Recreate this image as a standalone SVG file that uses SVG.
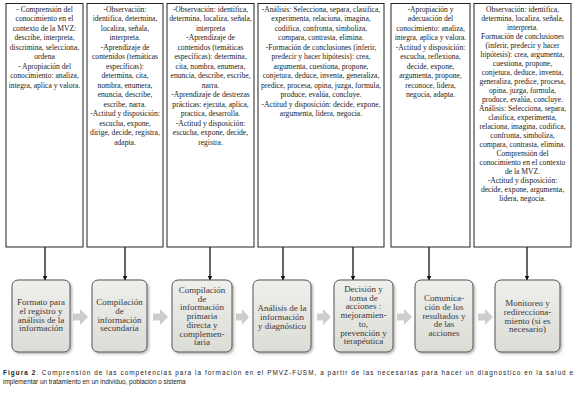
<svg xmlns="http://www.w3.org/2000/svg" width="576" height="414" viewBox="0 0 576 414">
<style>
.tb{fill:#fff;stroke:#222;stroke-width:1}
.t{font-family:"Liberation Serif","Times New Roman",serif;font-size:7.6px;fill:#222;text-anchor:middle}
.bb{fill:url(#g);stroke:#555;stroke-width:1;filter:url(#sh)}
.bt{font-family:"Liberation Serif","Times New Roman",serif;font-size:9px;fill:#3a3a3a;text-anchor:middle}
.con{stroke:#111;stroke-width:1.3;fill:none;marker-end:url(#ah)}
.ga{fill:#cdcdcd}
.cap{font-family:"Liberation Sans",Arial,sans-serif;font-size:6.4px;fill:#222}
</style>
<defs>
<linearGradient id="g" x1="0" y1="0" x2="0" y2="1"><stop offset="0" stop-color="#efefeb"/><stop offset="1" stop-color="#dcdcd7"/></linearGradient>
<filter id="sh" x="-20%" y="-20%" width="150%" height="150%"><feDropShadow dx="1.5" dy="1.5" stdDeviation="1.2" flood-color="#000" flood-opacity="0.3"/></filter>
<marker id="ah" viewBox="0 0 10 10" refX="9" refY="5" markerWidth="5" markerHeight="5" orient="auto" markerUnits="userSpaceOnUse"><path d="M0,0L10,5L0,10z" fill="#111"/></marker>
</defs>
<rect width="576" height="414" fill="#fff"/>

<g id="top1"><rect class="tb" x="6" y="3.5" width="77" height="243.5"/>
<text class="t" x="44.5" y="11.5">
<tspan x="44.5" dy="0">- Comprensión del</tspan><tspan x="44.5" dy="9.5">conocimiento en el</tspan><tspan x="44.5" dy="9.5">contexto de la MVZ:</tspan><tspan x="44.5" dy="9.5">describe, interpreta,</tspan><tspan x="44.5" dy="9.5">discrimina, selecciona,</tspan><tspan x="44.5" dy="9.5">ordena</tspan><tspan x="44.5" dy="9.5">- Apropiación del</tspan><tspan x="44.5" dy="9.5">conocimiento: analiza,</tspan><tspan x="44.5" dy="9.5">integra, aplica y valora.</tspan></text></g>

<g id="top2"><rect class="tb" x="87" y="3.5" width="76" height="243.5"/>
<text class="t" x="125" y="11.5">
<tspan x="125" dy="0">-Observación:</tspan><tspan x="125" dy="9.5">identifica, determina,</tspan><tspan x="125" dy="9.5">localiza, señala,</tspan><tspan x="125" dy="9.5">interpreta.</tspan><tspan x="125" dy="9.5">-Aprendizaje de</tspan><tspan x="125" dy="9.5">contenidos (temáticas</tspan><tspan x="125" dy="9.5">específicas):</tspan><tspan x="125" dy="9.5">determina, cita,</tspan><tspan x="125" dy="9.5">nombra, enumera,</tspan><tspan x="125" dy="9.5">enuncia, describe,</tspan><tspan x="125" dy="9.5">escribe, narra.</tspan><tspan x="125" dy="9.5">-Actitud y disposición:</tspan><tspan x="125" dy="9.5">escucha, expone,</tspan><tspan x="125" dy="9.5">dirige, decide, registra,</tspan><tspan x="125" dy="9.5">adapta.</tspan></text></g>

<g id="top3"><rect class="tb" x="167" y="3.5" width="87" height="243.5"/>
<text class="t" x="210.5" y="11.5">
<tspan x="210.5" dy="0">-Observación: identifica,</tspan><tspan x="210.5" dy="9.5">determina, localiza, señala,</tspan><tspan x="210.5" dy="9.5">interpreta</tspan><tspan x="210.5" dy="9.5">-Aprendizaje de</tspan><tspan x="210.5" dy="9.5">contenidos (temáticas</tspan><tspan x="210.5" dy="9.5">específicas): determina,</tspan><tspan x="210.5" dy="9.5">cita, nombra, enumera,</tspan><tspan x="210.5" dy="9.5">enuncia, describe, escribe,</tspan><tspan x="210.5" dy="9.5">narra.</tspan><tspan x="210.5" dy="9.5">-Aprendizaje de destrezas</tspan><tspan x="210.5" dy="9.5">prácticas: ejecuta, aplica,</tspan><tspan x="210.5" dy="9.5">practica, desarrolla.</tspan><tspan x="210.5" dy="9.5">-Actitud y disposición:</tspan><tspan x="210.5" dy="9.5">escucha, expone, decide,</tspan><tspan x="210.5" dy="9.5">registra.</tspan></text></g>

<g id="top4"><rect class="tb" x="258" y="3.5" width="126" height="243.5"/>
<text class="t" x="321" y="11.5">
<tspan x="321" dy="0">-Análisis: Selecciona, separa, clasifica,</tspan><tspan x="321" dy="9.5">experimenta, relaciona, imagina,</tspan><tspan x="321" dy="9.5">codifica, confronta, simboliza,</tspan><tspan x="321" dy="9.5">compara, contrasta, elimina.</tspan><tspan x="321" dy="9.5">-Formación de conclusiones (inferir,</tspan><tspan x="321" dy="9.5">predecir y hacer hipótesis): crea,</tspan><tspan x="321" dy="9.5">argumenta,  cuestiona, propone,</tspan><tspan x="321" dy="9.5">conjetura, deduce, inventa, generaliza,</tspan><tspan x="321" dy="9.5">predice, procesa, opina, juzga, formula,</tspan><tspan x="321" dy="9.5">produce, evalúa, concluye.</tspan><tspan x="321" dy="9.5">-Actitud y disposición: decide, expone,</tspan><tspan x="321" dy="9.5">argumenta, lidera, negocia.</tspan></text></g>

<g id="top5"><rect class="tb" x="391" y="3.5" width="79" height="243.5"/>
<text class="t" x="430.5" y="11.5">
<tspan x="430.5" dy="0">-Apropiación y</tspan><tspan x="430.5" dy="9.5">adecuación del</tspan><tspan x="430.5" dy="9.5">conocimiento: analiza,</tspan><tspan x="430.5" dy="9.5">integra, aplica y valora.</tspan><tspan x="430.5" dy="9.5">-Actitud y disposición:</tspan><tspan x="430.5" dy="9.5">escucha, reflexiona,</tspan><tspan x="430.5" dy="9.5">decide, expone,</tspan><tspan x="430.5" dy="9.5">argumenta, propone,</tspan><tspan x="430.5" dy="9.5">reconoce,  lidera,</tspan><tspan x="430.5" dy="9.5">negocia, adapta.</tspan></text></g>

<g id="top6"><rect class="tb" x="474" y="3.5" width="97" height="243.5"/>
<text class="t" x="522.5" y="11.5">
<tspan x="522.5" dy="0">Observación: identifica,</tspan><tspan x="522.5" dy="9">determina, localiza, señala,</tspan><tspan x="522.5" dy="9">interpreta.</tspan><tspan x="522.5" dy="9">Formación de conclusiones</tspan><tspan x="522.5" dy="9">(inferir, predecir y hacer</tspan><tspan x="522.5" dy="9">hipótesis): crea, argumenta,</tspan><tspan x="522.5" dy="9">cuestiona, propone,</tspan><tspan x="522.5" dy="9">conjetura, deduce, inventa,</tspan><tspan x="522.5" dy="9">generaliza, predice, procesa,</tspan><tspan x="522.5" dy="9">opina, juzga, formula,</tspan><tspan x="522.5" dy="9">produce, evalúa, concluye.</tspan><tspan x="522.5" dy="9">Análisis: Selecciona, separa,</tspan><tspan x="522.5" dy="9">clasifica, experimenta,</tspan><tspan x="522.5" dy="9">relaciona, imagina, codifica,</tspan><tspan x="522.5" dy="9">confronta, simboliza,</tspan><tspan x="522.5" dy="9">compara, contrasta, elimina.</tspan><tspan x="522.5" dy="9">Comprensión del</tspan><tspan x="522.5" dy="9">conocimiento en el contexto</tspan><tspan x="522.5" dy="9">de la MVZ.</tspan><tspan x="522.5" dy="9">-Actitud y disposición:</tspan><tspan x="522.5" dy="9">decide, expone, argumenta,</tspan><tspan x="522.5" dy="9">lidera, negocia.</tspan></text></g>

<g id="connectors">
<line class="con" x1="45" y1="247" x2="45" y2="280"/>
<line class="con" x1="125" y1="247" x2="125" y2="280"/>
<line class="con" x1="210" y1="247" x2="210" y2="280"/>
<line class="con" x1="283" y1="247" x2="283" y2="280"/>
<line class="con" x1="353" y1="247" x2="353" y2="280"/>
<line class="con" x1="429" y1="247" x2="429" y2="280"/>
<line class="con" x1="527" y1="247" x2="527" y2="280"/>
<path class="ga" d="M73,313.5h7v-4.5l8,8l-8,8v-4.5h-7z"/>
<path class="ga" d="M153,313.5h7v-4.5l8,8l-8,8v-4.5h-7z"/>
<path class="ga" d="M236,313.5h6v-4.5l7,8l-7,8v-4.5h-6z"/>
<path class="ga" d="M317,313.5h6v-4.5l8,8l-8,8v-4.5h-6z"/>
<path class="ga" d="M397,313.5h7v-4.5l8,8l-8,8v-4.5h-7z"/>
<path class="ga" d="M478,313.5h7v-4.5l8,8l-8,8v-4.5h-7z"/>
</g>

<g id="b1"><rect class="bb" x="12" y="280" width="58" height="72" rx="6"/>
<text class="bt"><tspan x="41" y="305">Formato para</tspan><tspan x="41" y="313.8">el registro y</tspan><tspan x="41" y="322.6">análisis de la</tspan><tspan x="41" y="331.4">información</tspan></text></g>
<g id="b2"><rect class="bb" x="92" y="280" width="55" height="72" rx="6"/>
<text class="bt"><tspan x="119.5" y="305">Compilación</tspan><tspan x="119.5" y="313.8">de</tspan><tspan x="119.5" y="322.6">información</tspan><tspan x="119.5" y="331.4">secundaria</tspan></text></g>
<g id="b3"><rect class="bb" x="172" y="280" width="60" height="72" rx="6"/>
<text class="bt"><tspan x="202" y="293">Compilación</tspan><tspan x="202" y="301.7">de</tspan><tspan x="202" y="310.4">información</tspan><tspan x="202" y="319.1">primaria</tspan><tspan x="202" y="327.8">directa y</tspan><tspan x="202" y="336.5">complemen-</tspan><tspan x="202" y="345.2">taria</tspan></text></g>
<g id="b4"><rect class="bb" x="253" y="280" width="58" height="72" rx="6"/>
<text class="bt"><tspan x="282" y="311">Análisis de la</tspan><tspan x="282" y="319.8">información</tspan><tspan x="282" y="328.6">y diagnóstico</tspan></text></g>
<g id="b5"><rect class="bb" x="334" y="280" width="59" height="72" rx="6"/>
<text class="bt"><tspan x="363.5" y="292">Decisión y</tspan><tspan x="363.5" y="300.7">toma de</tspan><tspan x="363.5" y="309.4">acciones :</tspan><tspan x="363.5" y="318.1">mejoramien-</tspan><tspan x="363.5" y="326.8">to,</tspan><tspan x="363.5" y="335.5">prevención y</tspan><tspan x="363.5" y="344.2">terapéutica</tspan></text></g>
<g id="b6"><rect class="bb" x="415" y="280" width="58" height="72" rx="6"/>
<text class="bt"><tspan x="444" y="301">Comunica-</tspan><tspan x="444" y="309.8">ción de los</tspan><tspan x="444" y="318.6">resultados y</tspan><tspan x="444" y="327.4">de las</tspan><tspan x="444" y="336.2">acciones</tspan></text></g>
<g id="b7"><rect class="bb" x="495" y="280" width="65" height="72" rx="6"/>
<text class="bt"><tspan x="527.5" y="306">Monitoreo y</tspan><tspan x="527.5" y="314.8">redirecciona-</tspan><tspan x="527.5" y="323.6">miento (si es</tspan><tspan x="527.5" y="332.4">necesario)</tspan></text></g>

<text class="cap" x="3" y="375" textLength="570" lengthAdjust="spacing"><tspan font-weight="bold">Figura 2</tspan>. Comprensión de las competencias para la formación en el PMVZ-FUSM, a partir de las necesarias para hacer un diagnóstico en la salud e</text>
<text class="cap" x="3" y="384">implementar un tratamiento en un individuo, población o sistema</text>
</svg>
